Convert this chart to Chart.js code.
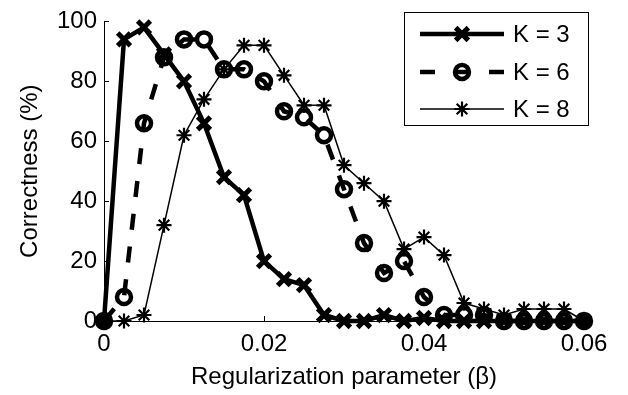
<!DOCTYPE html>
<html><head><meta charset="utf-8">
<script src="https://cdn.jsdelivr.net/npm/chart.js@4"></script>
<style>html,body{margin:0;padding:0;background:#fff}#wrap{width:628px;height:395px}</style>
</head><body><div id="wrap"><canvas id="c" width="628" height="395"></canvas></div>
<script>
const betas = [0,0.0025,0.005,0.0075,0.01,0.0125,0.015,0.0175,0.02,0.0225,0.025,0.0275,0.03,0.0325,0.035,0.0375,0.04,0.0425,0.045,0.0475,0.05,0.0525,0.055,0.0575,0.06];
const seriesLabels = ['K = 3','K = 6','K = 8'];
const k3 = [0,94,98,89,80,66,48,42,20,14,12,2,0,0,2,0,1,0,0,0,0,0,0,0,0];
const k6 = [0,8,66,88,94,94,84,84,80,70,68,62,44,26,16,20,8,2,2,2,0,0,0,0,0];
const k8 = [0,0,2,32,62,74,84,92,92,82,72,72,52,46,40,24,28,22,6,4,2,4,4,4,0];
const xTicks = [0,0.02,0.04,0.06];
const xTickLabels = ['0','0.02','0.04','0.06'];
const yTicks = [0,20,40,60,80,100];
const yTickLabels = ['0','20','40','60','80','100'];
const xTitle = 'Regularization parameter (\u03B2)';
const yTitle = 'Correctness (%)';

const FONT = {family:"'Liberation Sans', Arial, sans-serif", size:24};
const mk = arr => betas.map((b,i)=>({x:b,y:arr[i]}));

function marker(ctx, style, r, lw, x, y){
  ctx.save();
  ctx.strokeStyle='#000'; ctx.lineWidth=lw; ctx.setLineDash([]);
  ctx.beginPath();
  if(style==='crossRot'){
    const d=r*Math.SQRT1_2;
    ctx.moveTo(x-d,y-d);ctx.lineTo(x+d,y+d);ctx.moveTo(x+d,y-d);ctx.lineTo(x-d,y+d);
  } else if(style==='circle'){
    ctx.arc(x,y,r,0,Math.PI*2);
  } else if(style==='star'){
    const d=r*Math.SQRT1_2;
    ctx.moveTo(x-r,y);ctx.lineTo(x+r,y);ctx.moveTo(x,y-r);ctx.lineTo(x,y+r);
    ctx.moveTo(x-d,y-d);ctx.lineTo(x+d,y+d);ctx.moveTo(x+d,y-d);ctx.lineTo(x-d,y+d);
  }
  ctx.stroke();
  ctx.restore();
}

const axisExtras = {
  id:'axisExtras',
  afterDraw(chart){
    const {ctx, scales:{x,y}, chartArea:a} = chart;
    ctx.save();
    ctx.strokeStyle='#000'; ctx.lineWidth=1;
    ctx.beginPath();
    xTicks.forEach(v=>{const px=Math.round(x.getPixelForValue(v))+0.5; ctx.moveTo(px,a.bottom); ctx.lineTo(px,a.bottom-5);});
    yTicks.forEach(v=>{const py=Math.round(y.getPixelForValue(v))+0.5; ctx.moveTo(a.left,py); ctx.lineTo(a.left+5,py);});
    ctx.stroke();
    // legend
    const bx=404.5, by=12.5, bw=184, bh=113;
    ctx.fillStyle='#fff'; ctx.fillRect(bx,by,bw,bh);
    ctx.strokeRect(bx,by,bw,bh);
    const ds = chart.data.datasets;
    const rowsY=[34,72,109];
    ds.forEach((d,i)=>{
      const yy=rowsY[i];
      ctx.save();
      ctx.strokeStyle='#000'; ctx.lineWidth=d.borderWidth;
      ctx.setLineDash(d.borderDash ? [15,19.5] : []);
      ctx.beginPath(); ctx.moveTo(420,yy); ctx.lineTo(504,yy); ctx.stroke();
      ctx.restore();
      marker(ctx, d.pointStyle, d.pointRadius, d.pointBorderWidth, 462, yy);
      ctx.fillStyle='#000';
      ctx.font = FONT.size+'px '+FONT.family;
      ctx.textBaseline='middle'; ctx.textAlign='left';
      ctx.fillText(d.label, 513, yy+1);
    });
    ctx.restore();
  }
};

new Chart(document.getElementById('c').getContext('2d'), {
  type:'line',
  data:{datasets:[
    {label:seriesLabels[0], data:mk(k3), borderColor:'#000', borderWidth:4.5, pointStyle:'crossRot', pointRadius:9, pointBorderWidth:5, pointBorderColor:'#000', pointBackgroundColor:'#000', order:3, clip:false, tension:0},
    {label:seriesLabels[1], data:mk(k6), borderColor:'#000', borderWidth:4.5, borderDash:[16,17], pointStyle:'circle', pointRadius:7, pointBorderWidth:4.5, pointBorderColor:'#000', pointBackgroundColor:'rgba(0,0,0,0)', order:2, clip:false, tension:0},
    {label:seriesLabels[2], data:mk(k8), borderColor:'#000', borderWidth:1.5, pointStyle:'star', pointRadius:7.5, pointBorderWidth:2.2, pointBorderColor:'#000', pointBackgroundColor:'#000', order:1, clip:false, tension:0}
  ]},
  options:{
    responsive:false, animation:false, devicePixelRatio:1,
    layout:{padding:{top:16,right:44,left:0,bottom:0}},
    plugins:{legend:{display:false}, tooltip:{enabled:false}},
    elements:{point:{hoverRadius:0}},
    scales:{
      x:{type:'linear', min:0, max:0.06,
        afterBuildTicks:s=>{s.ticks=xTicks.map(v=>({value:v}));},
        ticks:{callback:v=>xTickLabels[xTicks.indexOf(v)], font:FONT, color:'#000', padding:9, maxRotation:0, autoSkip:false},
        grid:{display:false, drawTicks:false},
        border:{display:true, color:'#000', width:1},
        title:{display:true, text:xTitle, font:FONT, color:'#000', padding:{top:0,bottom:3}},
        afterFit:s=>{s.height=395-321;}
      },
      y:{type:'linear', min:0, max:100,
        afterBuildTicks:s=>{s.ticks=yTicks.map(v=>({value:v}));},
        ticks:{callback:v=>yTickLabels[yTicks.indexOf(v)], font:FONT, color:'#000', padding:7, autoSkip:false},
        grid:{display:false, drawTicks:false},
        border:{display:true, color:'#000', width:1},
        title:{display:true, text:yTitle, font:FONT, color:'#000', padding:{top:16,bottom:0}},
        afterFit:s=>{s.width=104;}
      }
    }
  },
  plugins:[axisExtras]
});
</script>
</body></html>
